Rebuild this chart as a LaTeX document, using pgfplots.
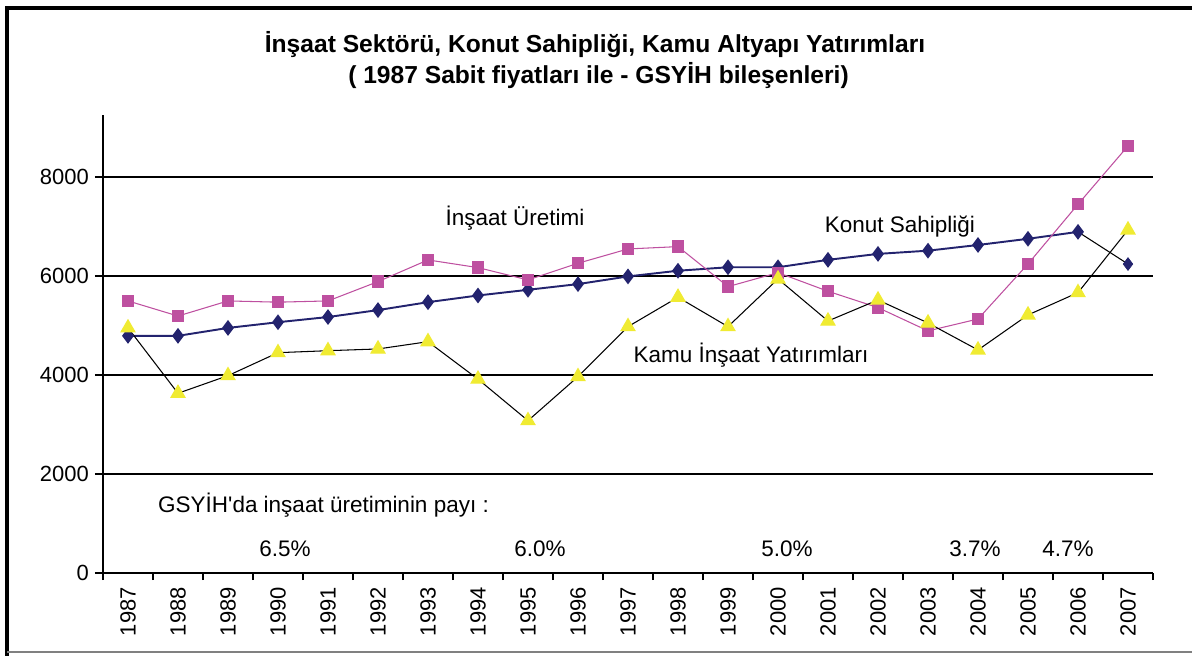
\documentclass[border=0pt]{standalone}
\usepackage{pgfplots}
\pgfplotsset{compat=1.18}
\usepackage{fontspec}
\setmainfont{Liberation Sans}
\definecolor{navy}{RGB}{35,35,110}
\definecolor{mag}{RGB}{190,80,160}
\definecolor{yel}{RGB}{240,235,50}

\begin{document}
\begin{tikzpicture}
\path[use as bounding box] (0,0) rectangle (23.84cm,13.12cm);
% frame
\draw[line width=1.8pt] (0.1cm,12.96cm) -- (23.84cm,12.96cm);
\draw[line width=1.8pt] (0.14cm,12.96cm) -- (0.14cm,0cm);
\draw[gray, line width=0.8pt] (0.14cm,0.08cm) -- (23.84cm,0.08cm);
% title
\node[font=\fontsize{14}{16}\selectfont\bfseries] at (11.9cm,12.22cm)
  {İnşaat Sektörü, Konut Sahipliği, Kamu Altyapı Yatırımları};
\node[font=\fontsize{14}{16}\selectfont\bfseries] at (11.97cm,11.6cm)
  {( 1987 Sabit fiyatları ile - GSYİH bileşenleri)};

\begin{axis}[
  at={(2.06cm,1.66cm)}, anchor=south west,
  scale only axis, width=21cm, height=9.16cm,
  xmin=-0.5, xmax=20.5, ymin=0, ymax=9250,
  axis x line=bottom, axis y line=left,
  axis line style={-, line width=0.8pt},
  tick align=outside,
  tick style={black, line width=0.8pt},
  xtick={0,...,20},
  xticklabels={1987,1988,1989,1990,1991,1992,1993,1994,1995,1996,1997,1998,1999,2000,2001,2002,2003,2004,2005,2006,2007},
  major x tick style={draw=none},
  minor xtick={-0.5,0.5,...,20.5},
  minor tick length=0.14cm,
  x tick label style={rotate=90, anchor=east, font=\fontsize{12.5}{14}\selectfont},
  ytick={0,2000,4000,6000,8000},
  major tick length=0.16cm,
  y tick label style={font=\fontsize{12.5}{14}\selectfont},
  /pgf/number format/assume math mode=true,
  /pgf/number format/1000 sep={},
  ymajorgrids,
  major grid style={black, line width=0.8pt},
  clip=false,
]
% Konut Sahipligi
\addplot[navy, line width=1.1pt, mark=diamond*, mark size=3.6pt,
  mark options={fill=navy, draw=navy}] coordinates {
  (0,4790) (1,4790) (2,4950) (3,5065) (4,5170) (5,5310) (6,5470)
  (7,5605) (8,5720) (9,5835) (10,5990) (11,6105) (12,6175) (13,6175)
  (14,6325) (15,6445) (16,6510) (17,6625) (18,6750) (19,6890)
};
\addplot[black, line width=0.6pt] coordinates {(19,6890) (20,6240)};
\addplot[only marks, mark=diamond*, mark size=3.6pt,
  mark options={fill=navy, draw=navy}] coordinates {(20,6240)};
% Insaat Uretimi
\addplot[mag, line width=0.6pt, mark=square*, mark size=3.2pt,
  mark options={fill=mag, draw=mag}] coordinates {
  (0,5495) (1,5190) (2,5495) (3,5470) (4,5495) (5,5885) (6,6323)
  (7,6168) (8,5919) (9,6256) (10,6545) (11,6592) (12,5784) (13,6066)
  (14,5690) (15,5360) (16,4890) (17,5130) (18,6242) (19,7447) (20,8625)
};
% Kamu Insaat Yatirimlari
\addplot[black, line width=0.6pt, mark=triangle*, mark size=4.6pt,
  mark options={fill=yel, draw=yel}] coordinates {
  (0,4950) (1,3630) (2,3986) (3,4450) (4,4490) (5,4525) (6,4672)
  (7,3915) (8,3077) (9,3966) (10,4976) (11,5569) (12,4976) (13,5939)
  (14,5090) (15,5515) (16,5050) (17,4505) (18,5212) (19,5663) (20,6929)
};
% annotations
\node[font=\fontsize{12.8}{14}\selectfont] at (axis cs:7.74,7171) {İnşaat Üretimi};
\node[font=\fontsize{12.8}{14}\selectfont] at (axis cs:15.44,6989) {Konut Sahipliği};
\node[font=\fontsize{12.8}{14}\selectfont] at (axis cs:12.46,4404) {Kamu İnşaat Yatırımları};
\node[font=\fontsize{12.8}{14}\selectfont, anchor=west] at (axis cs:0.48,1374) {GSYİH\textquotesingle da inşaat üretiminin payı :};
\node[font=\fontsize{12.8}{14}\selectfont] at (axis cs:3.14,485) {6.5\%};
\node[font=\fontsize{12.8}{14}\selectfont] at (axis cs:8.24,485) {6.0\%};
\node[font=\fontsize{12.8}{14}\selectfont] at (axis cs:13.18,485) {5.0\%};
\node[font=\fontsize{12.8}{14}\selectfont] at (axis cs:16.94,485) {3.7\%};
\node[font=\fontsize{12.8}{14}\selectfont] at (axis cs:18.8,485) {4.7\%};
\end{axis}
\end{tikzpicture}
\end{document}
